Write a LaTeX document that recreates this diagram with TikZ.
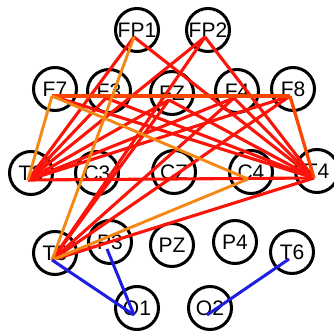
\documentclass[tikz,border=0pt]{standalone}
\usepackage{fontspec}
\setmainfont{Liberation Sans}
\usetikzlibrary{calc}
\definecolor{ered}{RGB}{250,20,10}
\definecolor{eredor}{RGB}{250,70,0}
\definecolor{eorange}{RGB}{245,135,20}
\definecolor{eblue}{RGB}{30,30,225}
\tikzset{
  el/.style={circle,draw=black,line width=3pt,minimum size=43pt,inner sep=0pt,font=\fontsize{21}{21}\selectfont},
  redge/.style={draw=ered,line width=3.1pt},
  roedge/.style={draw=eredor,line width=3.3pt},
  oedge/.style={draw=eorange,line width=2.9pt},
  bedge/.style={draw=eblue,line width=3pt},
}
\begin{document}
\begin{tikzpicture}[x=1pt,y=-1pt]
\useasboundingbox (0,0) rectangle (334,331);
% electrodes
\node[el] (FP1) at (137,30) {FP1};
\node[el] (FP2) at (208,30) {FP2};
\node[el] (F7) at (55,89) {F7};
\node[el] (F3) at (109,91) {F3};
\node[el] (FZ) at (172,93) {FZ};
\node[el] (F4) at (237,91) {F4};
\node[el] (F8) at (293,89) {F8};
\node[el] (T3) at (31,173) {T3};
\node[el] (C3) at (97,173) {C3};
\node[el] (CZ) at (174,172) {CZ};
\node[el] (C4) at (251,172) {C4};
\node[el] (T4) at (317,171) {T4};
\node[el] (T5) at (55,253) {T5};
\node[el] (P3) at (110,242) {P3};
\node[el] (PZ) at (172,245) {PZ};
\node[el] (P4) at (235,242) {P4};
\node[el] (T6) at (292,252) {T6};
\node[el] (O1) at (137,308) {O1};
\node[el] (O2) at (210,308) {O2};
% connection points
\foreach \n in {FP1,FP2,F7,F3,FZ,F4,F8,T3,C3,CZ,C4,T4,T5,P3,PZ,P4,T6,O1,O2}
  \coordinate (p\n) at ($(\n.center)+(-3,7)$);
% red connections
\foreach \a/\b in {T3/FP1,T3/FP2,T3/F3,T3/FZ,T3/F4,T3/F8,
                   T4/FP1,T4/FP2,T4/F7,T4/F3,T4/FZ,T4/F4,
                   T5/FP2,T5/FZ,T5/F4,T5/F8,T5/T4,T3/T4}
  \draw[redge] (p\a) -- (p\b);
\draw[roedge] (pF7) -- (pF8);
\draw[roedge] (pF8) -- (pT4);
% orange connections
\foreach \a/\b in {F7/T3,F7/C4,FP1/T5,T5/C4}
  \draw[oedge] (p\a) -- (p\b);
% blue connections
\foreach \a/\b in {T5/O1,P3/O1,T6/O2}
  \draw[bedge] (p\a) -- (p\b);
\end{tikzpicture}
\end{document}
